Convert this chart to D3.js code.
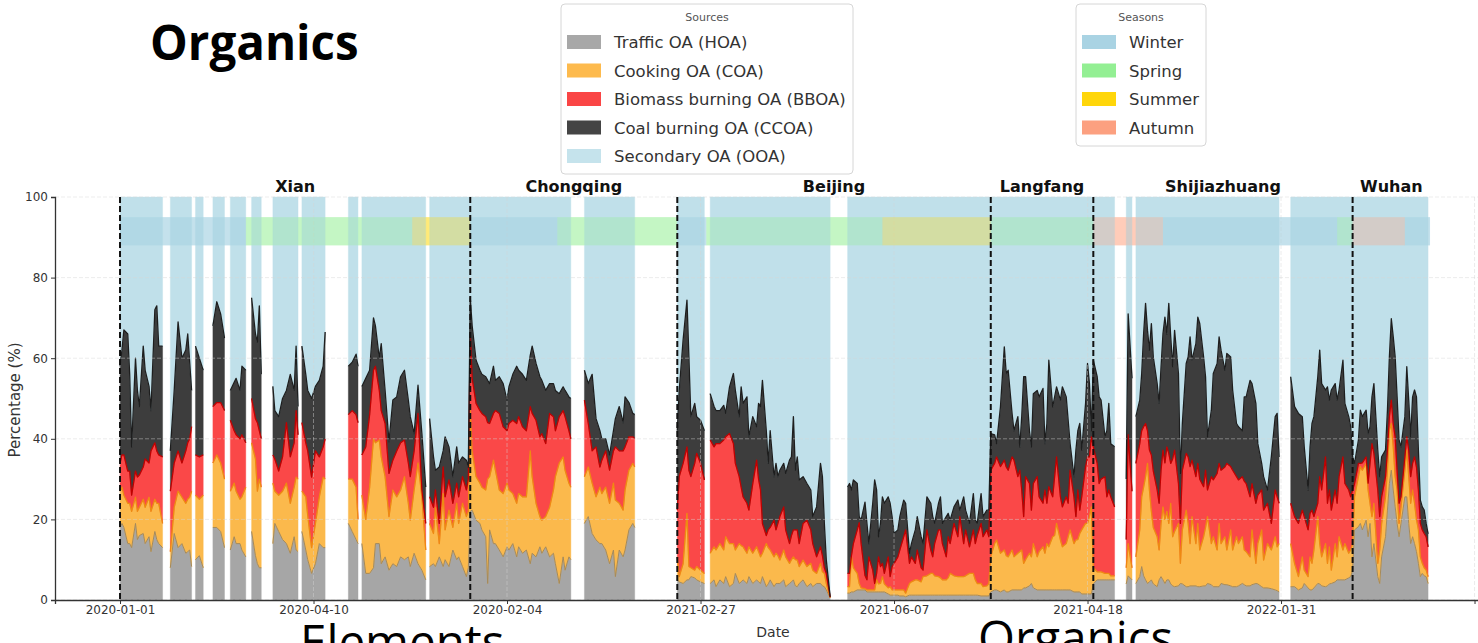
<!DOCTYPE html>
<html><head><meta charset="utf-8">
<script src="https://cdn.jsdelivr.net/npm/d3@7"></script>
<style>html,body{margin:0;padding:0;background:#fff;overflow:hidden}</style>
</head><body>
<svg id="chart" width="1478" height="643"></svg>
<script>
// ---------- DATA (sample index per contiguous run; one inner array per run) ----------
const days = [
 [0,1,2,4,5,6,8,9,10,12,13,15,16,18,19,20,22],
 [26,28,30,32,34,35,36,37],
 [39,41,43],
 [48,50,52,54],
 [57,59,60,62,63,65],
 [68,70,71,72,73],
 [79,80,82,84,86,88,90,91,92],
 [94,96,97,99,101,103,105,106],
 [118,120,122,123],
 [125,127,129,131,132,134,135,137,139,141,143,145,147,149,150,152,154,156,158],
 [160,162,163,165,167,168,170,172,174,175,177,179,180,181,182,184,186,187,189,190,191,193,194,196,198,200,201,203,205,206,208,210,212,213,215,217,218,220,222,224,225,227,229,230,232,233],
 [240,242,244,246,248,249,251,253,255,256,258,260,261,263,265,266],
 [288,289,291,293,294,295,297,298,300,302],
 [305,307,308,310,312,313,315,317,318,320,321,322,324,325,327,329,330,331,332,334,335,336,338,339,340,341,343,344,346,347,348,349,350,351,353,355,357,358,360,362,363,364,365,367],
 [376,377,378,379,381,382,383,385,386,387,389,390,391,392,393,394,395,397,398,399,400,402,403,405,406,
  408,409,411,412,414,415,417,419,420,421,423,424,425,427,428,429,431,433,434,436,437,439,441,442,443,445,446,448,449,
  450,452,453,455,457,458,459,461,462,464,465,466,467,468,470,471,472,474,475,477,478,479,480,482,483,484,486,487,489,490,491,493,494,495,496,497,499,500,501,502,
  503,505,506,507,509,510,511,512,514],
 [520,521,523],
 [525,527,528,529,530,531,532,533,534,536,537,538,539,540,541,542,543,544,545,547,548,549,551,552,553,554,556,557,558,560,561,562,564,565,567,568,569,571,572,574,575,577,578,580,581,582,584,585,587,588,590,591,593,595,597,598,599],
 [605,607,609,611,612,614,615,616,617,619,620,621,623,624,625,626,628,629,630,632,633,635,636,637,638,640,641,642,644,645,646,647,648,650,651,652,654,655,656,657,658,659,660,661,662,664,665,666,667,668,669,670,671,672,673,674,675,676]
];
const hoa = [
 [18,19,18,14,14,13,19,15,16,16.5,14,15.7,12,17,15,14,13],
 [8,16.5,13,14,11.6,12,12.4,8.3],
 [10,11,8],
 [18,18,17,13],
 [12.4,15.7,14,14,12.4,10.7],
 [17,11,9,8,8],
 [14,19,17,15,14,11.6,15.7,12.4,12],
 [17,12.4,10,6.6,9,14,13,13],
 [19,17,15,14],
 [14,6.6,6.6,8,14,14,9,10.7,7.4,9,8.3,10.7,10,10.7,8.3,11.6,9,7.4,5],
 [8.3,9,8.3,10.7,8.3,10,8.3,12.4,10,10.7,8.3,5.8,8,22,22.3,19.8,19,17.4,15.7,4.1,17.4,14,14,12.4,10.7,13.2,12.4,14,10.7,13.2,11.6,12.4,9,11.6,10.7,13.2,11.6,13.2,10.7,11.6,9,4.1,10.7,7.4,10.7,10],
 [19,20.7,16.5,14.9,14,14,12.4,9,12.4,5.8,12.4,10.7,12.4,17.4,19,18],
 [5,4.5,4.1,5,5,5.8,5.5,5,4.5,4.1],
 [4.1,5,3.3,5,4.1,5.8,3.3,4.1,6.6,4.1,4.5,5,4.1,5.8,4.1,5,4.5,4.1,5.8,3.3,4,5,3.3,4.1,4.1,4.1,5,3.3,4.1,4.5,5,3.5,3.3,4.1,5,3.3,4.1,3.3,4.1,4.1,3.5,3.3,2.5,0.5],
 [1.7,1.7,2,2,2.5,2.5,2.5,2.5,2,2,2,2,2,2,2,2,2,1.5,1.2,1.2,1.2,1.2,1,1,0.8,
  1.2,1.2,1.2,1.2,1.2,1.2,1.2,1.2,1.2,1.2,1.2,1.2,1.2,1.2,1.2,1.2,1.2,1.2,1.2,1.2,1.2,1.2,1.2,1.2,1.2,1,1,1,1,
  2,2.5,2.5,2,2.5,2,2,2.5,2.5,2.5,2.5,2.5,3,3,3.5,4.1,3,2.5,2.5,2.5,2.5,2.5,2.5,2.5,2.5,2.5,2.5,2.5,2.5,2.5,2.5,2,2,2,2,1.5,1.5,1.5,1.5,1.5,
  4,5,5,5,5,5,5,5,5],
 [4,6,5],
 [4.1,5.8,8.3,6,5,4.1,4.5,5,4,3.3,5,5.8,5,4.1,5,5,4,3.5,3.3,3.5,4.1,4,3.3,3.3,3.5,3.5,3.5,3.3,3.3,3.5,3.5,4.1,3.8,3.3,3.3,3.3,4.1,3.8,3.8,3.5,3.3,3.3,3.5,4.1,3.8,3.5,3.5,3.8,4.1,4,3.3,3,3,2.8,2.5,2.3,2],
 [3.3,3.3,2.5,3,4.1,3,2.5,2.5,3,4.1,4,3.5,3.3,3.5,4,4.1,4.5,5,5,5,5,5.5,5.8,7.4,17.4,18.2,19,17.4,19.8,15.7,19,10.7,14,5.8,4.1,10.7,15.7,22.3,28.9,32.2,27.3,23.1,19,15.7,19,25.6,25.6,19,14,15.7,14,12,9.1,5.8,6.6,6,5.8,4.1]
];
const coa = [
 [9,9,8,10,10,9,6.5,7,7,8.5,9,9.8,10,8,9,10,6],
 [4,6.5,14,11.5,12.4,13,13.1,18.7],
 [16,14,18],
 [16,18,17,17],
 [14.6,13.3,13,11,13.2,17.3],
 [22,24,18,22,20],
 [15,8,9,12,15,12.4,12.3,18.1,18],
 [10,13.2,11,6.4,10,11.6,17.5,17],
 [11,13,13,6],
 [12,13.4,21.4,32,25,25.7,26.5,19.9,13.3,18.3,17.3,16.6,20.6,13.3,11.5,15.7,25,18.2,7.4],
 [10.7,7.5,14.7,3.3,18.1,7.4,14,5.6,14,8.3,15.7,14.9,14,25,14.7,10.8,10,10.6,11.6,25.9,13.2,20.7,18.2,14.9,15.7,15.8,14.9,12.4,13.3,13.2,14,13.2,28,19,13.3,7.5,8.2,7.5,12.3,15.7,21.6,29.9,24.8,24.8,18.3,18],
 [11.6,12.3,12.5,10.7,14,12.4,15.6,15,16.6,19,11.6,11.6,14.9,14.8,14.9,15],
 [5.7,1.3,4.9,16.5,3.3,2.2,1.9,3.3,2.9,2.5],
 [7.5,8.2,9.1,9,8.3,9.9,10.7,9.9,5.8,9.9,9,8.2,7.5,7.4,7.5,8.2,7.5,6.6,5.8,10.7,9,7.4,7.4,7.5,6.9,5.8,7.4,7.4,5,5.5,5.7,6.5,6.6,4.2,4.9,5,5,4.1,2.5,5,3.5,3.3,1.6,0.1],
 [1.6,1.6,8.7,6,4.1,1.6,0.5,0.3,0.5,0.5,0.5,0.5,3,2,2.1,3.8,2,1.5,2.1,1.3,1.3,1.3,1.5,1.5,0.9,
  2.9,3.3,3.8,3.8,3.3,4.6,4.8,5.4,5.4,4.8,4.6,4.3,3.8,3.8,4.3,5.4,4.8,4.6,4.6,4.6,4.8,5.4,5.4,3.8,2.9,3.1,2.3,2.5,3.1,
  8.7,11.5,12.4,9.6,9.9,9,8.7,9.9,8.2,9.1,9.5,9.9,6.1,7,8.1,6.6,11,8.2,9.5,10.7,9.1,11.5,10.7,13.2,13.5,16.5,12.4,10.7,11.5,13.2,14.9,12,12.9,13,14.5,15.9,17.5,17.5,19.2,21.6,
  4,2,2,2,1.6,1.6,1.6,1,1],
 [4,8,3],
 [6.6,11.6,17.3,22,25.6,29.8,22.8,17,14,12.4,7.4,13.2,18.1,15.9,17,14,20,12.2,13.7,15.5,5,13.4,19,15.7,10.5,17.2,10.5,15.7,9.1,12.2,14.5,16.6,10.2,12.4,9.1,15.7,9.9,11.9,8.6,13.9,9.1,12.4,10.5,11.6,8.6,8.5,7.2,13.6,5,10,14.1,6.9,11,9.6,13.2,10.9,12],
 [10.7,5.8,3.3,7.7,3.3,2.8,8.2,6.6,9.4,16.6,10,7.2,10.7,5.6,9.2,3.3,9.5,5.7,10.7,7.4,9,6.1,6.6,6.6,8.2,12.4,14.1,14.8,14.1,11.6,5,10,10,3.3,8.3,8.3,9.9,9.9,13.2,11.6,10.7,7.5,8.3,3.3,4.1,6.6,11.6,11.6,10,11.6,10,8,8.3,4.9,2.5,2,1.6,1.7]
];
const bboa = [
 [7,8,10,8,8,4,6.5,8.5,8,8,12,8.5,15,14,13,12,16.5],
 [15,11,10,8.5,13,14,14.5,16],
 [10,10.5,10],
 [14,13,15,17],
 [17.6,13,14,15,15.4,11],
 [11,10,17,12,12],
 [7,8,6,8.5,15,11.5,11,16.5,11],
 [17,13.4,16,17.5,18,9.9,7.5,10],
 [16,17,18,24],
 [10,18,18,17,19,12.3,11.5,13.2,10.7,7.4,11.4,11.7,9.1,10,10.8,9.7,12.3,1.7,6.6],
 [6.6,6.5,4.3,5,6.6,8.2,7.5,6,5,6.6,6.6,6.6,8,19,18,18.2,18,18.3,18.2,14,13.2,11.6,14.8,19,16.6,13,16.5,18.2,19.8,19.1,17.4,16.4,11,15.7,20.6,19.8,21.5,18.1,23.3,18.2,11.4,11.5,11.5,13.3,13,12],
 [19,10.8,8,12.4,5,8.3,9,8.2,8,13.2,13,14.7,10.7,8.3,6.6,7],
 [11.6,24.8,24.9,16.5,23.9,22.6,26.5,28.1,26.5,23.2],
 [28.1,24.8,26.4,24.8,27.3,24.8,27.3,24.8,21.5,16.6,14.5,12.4,12.4,9.1,17.3,21.5,18,16.6,7.4,2,4.4,5.6,9.1,5.8,8,10.8,10.7,6.7,4.9,6,6.7,7.4,7.5,5.7,9.1,11.5,8.3,6.6,4.1,4.1,4,1.4,2.5,0.1],
 [3.3,3.3,0.3,6,10.8,15.1,11,3.3,2.5,8.2,4.9,1.6,1.6,6.7,4.2,3.3,2.6,7.7,2.5,5.8,6.5,8.2,9.9,13.2,15.7,
  5,6.2,4.1,7.4,3.5,1.6,11.4,5.8,4.1,8,11.6,11.9,9,5.7,10.2,7.4,13,9.9,14.9,8.2,11.4,6.6,10.8,9,11.9,14.9,12.4,13.9,11.6,
  21.5,19.9,20.6,21.5,22.3,22,21.5,23.1,24,19,20.2,14.9,11.6,20.6,17.3,11.6,14.9,19.9,13.6,10.8,15.7,10,14.9,9.9,14.6,16.5,10.7,9.9,11.6,8.3,14.8,11.6,5.8,12.3,5.8,8.2,14.1,16.5,14.8,17.4,
  30,26.9,21.9,23,24,19,20.7,19.6,17.1],
 [7,27,19],
 [23.2,21.4,16.4,15,13.2,8.1,9.9,14,14,11.6,11.6,13.2,14.1,14,16,17.4,9.9,19.3,20.2,9.9,9.9,14.8,14.1,16.5,19.1,14,16.6,14.9,17.6,12.4,14.2,6.6,16.6,14.1,19,14.9,18.2,17.3,21.5,15.7,19.8,14.9,15.8,14.9,17.1,16.9,14.9,11.5,14.9,12,9.9,12.4,10,6.6,11.6,12.4,10],
 [10,11.6,13.2,11.6,13.3,11.6,10.8,13.2,8.3,3.3,16.6,16.6,21.5,14.9,14.1,14.9,13.3,13.3,14.9,23.1,14.9,15.7,13.2,13.3,3.3,3.3,0.8,1.8,1.6,1.7,9.9,18.1,12.4,18.2,8.3,6.6,5,5,3.4,5.8,5.8,9.9,4.9,5,2.5,3.3,3.3,6.6,6.6,6.6,11.5,13,9.9,8.3,8.3,8.5,8.3,7.4]
];
const ccoa = [
 [24,26,31,34,24,12,28,21.5,17,30,22,19,10,33,36,27,27.5],
 [10,18,32,26,25,27,19,9],
 [27,24.5,21],
 [20,25,22,18],
 [7.4,12,14,12,17,18],
 [25,21,20,31,16],
 [17,12,13.5,14.5,8,20.5,13,16,7],
 [19,17,15,19.5,16,19,20,26.5],
 [12,12,15,14],
 [17,17,11,13,10,8,16.6,8.2,7.9,14.9,13.4,16.4,17.3,15.6,14.9,4.3,7,14,9],
 [19.4,12.5,4.9,14,4,14.9,8.2,6.6,9,8.4,4.9,7.4,3,9,13,10.7,10,9.7,9.9,10.5,9.9,11.7,7.5,9.1,10.7,7.6,9.1,11.4,14.2,11.5,13,12.5,12.7,16.7,14.1,14.9,13.2,13.2,7.4,8.2,10,5.7,5.9,6.5,8.4,10],
 [7.4,9.9,19,7,9,5.3,3,3.8,5,7,11,7,12.4,8.5,5.8,6],
 [19.7,21.4,30.6,36.4,28.1,14.9,14.9,9.1,10.7,12.2],
 [11.5,10,8.2,8.2,8.6,5.8,11.6,17.4,18.1,14.9,24.9,23.2,26.4,18.2,16.6,8.3,18.8,20.7,35.5,26,16.5,24,10.8,16.5,11.6,11.5,10.8,14,20.7,19.5,28.1,14.8,18.1,15.8,11.6,9.1,9.9,6.7,12.4,20.7,19.6,11,3.4,0.1],
 [21.4,22.3,16.3,15.8,11.5,1.5,5.8,18.2,14,3.3,16.6,25.7,20.7,5,10.7,16.5,17.4,14.9,18.2,12.4,7.5,6.7,8.3,9.1,6.6,
  2.5,3.3,8.3,8.3,7.7,6.6,8.2,11.6,10,5,6.6,8.2,5,10,5.8,5.8,4.1,9.1,1.6,11.6,4.9,5.8,9,5.8,3,7.4,5,4.9,6.6,
  9.1,7.1,3.3,14.8,28.1,23.2,24.8,10.8,7.3,14.9,5.8,18.2,34.7,24.8,13.1,15.7,22.3,21.4,24.8,28.5,11.5,19.8,31.4,22.3,19.8,17.4,24,29.8,24.8,20.6,6.6,5,16.5,14.7,21.5,11.6,15.7,23.2,18.2,1.5,
  21.5,21.5,21.5,19.6,9.9,16.4,21.5,13.2,14.9],
 [15,30,28],
 [11.6,10.8,14.2,23.1,29.8,24.9,24.8,32.6,28.3,26.4,24.8,25.7,28.9,36.2,28,37.2,31.4,22.9,29.7,27.3,12.4,11.6,22.3,24.8,32.2,24.8,33,36.3,38.6,32.2,23.2,13.2,16.5,26.4,27.3,31.4,29.8,24,27.3,27.2,19.9,13.2,13.2,11.4,20.9,21.5,28.9,24.8,24.8,12.8,6.6,8.3,3.3,16.5,18.2,20.7,11.5],
 [31.4,27.3,27.3,23.2,17.3,9.9,16.5,21.5,24.8,31.4,31.4,26.4,16.6,28.9,22.3,29.8,26.4,25.6,21.5,24,19.9,18.2,17.4,8.2,5,5.8,13.2,11.5,11.6,12.3,9.1,11.6,17.3,9.9,9.9,9.9,6.6,9.9,14.8,20.2,21.5,19.8,18.2,15.7,12.4,10,17.4,12.4,9.9,16.5,16.6,17.4,9.9,5.8,5.7,5.8,3.3,3.2]
];

const sourceLabels = ['Traffic OA (HOA)','Cooking OA (COA)','Biomass burning OA (BBOA)','Coal burning OA (CCOA)','Secondary OA (OOA)'];
const cityNames = ['Xian','Chongqing','Beijing','Langfang','Shijiazhuang','Wuhan'];
const cityStart = [0,181,288,450,503,637];
const cityEnd   = [181,288,450,503,637,677];
const seasonNames = ['Winter','Spring','Summer','Autumn'];
const seasonName  = ['Winter','Spring','Summer','Winter','Spring','Winter','Spring','Summer','Spring','Autumn','Winter','Spring','Autumn','Winter'];
const seasonStart = [0,65,151,181,226,288,303,394,450,503,539,629,637,664];
const seasonEnd   = [65,151,181,226,288,303,394,450,503,539,629,637,664,677];
const xTickValues = [0,100,200,300,400,500,600,700];
const xTickLabels = ['2020-01-01','2020-04-10','2020-02-04','2021-02-27','2021-06-07','2021-04-18','2022-01-31',''];
const yTickValues = [0,20,40,60,80,100];

// ---------- STYLE ----------
const keys = ['hoa','coa','bboa','ccoa','ooa'];
const fills = {hoa:'#a6a6a6', coa:'#fbb94c', bboa:'#fa4848', ccoa:'#3d3d3d', ooa:'#c0e0ea'};
const edges = {hoa:'#a48a5c', coa:'#ee8a12', bboa:'#c20000', ccoa:'#1e1e1e'};
const seasonColor = {Winter:'#8fc6dc', Spring:'#90ee90', Summer:'#ffd700', Autumn:'#ffa07a'};
const legendSeasonColor = {Winter:'#a9d3e3', Spring:'#93ef93', Summer:'#ffd60a', Autumn:'#fca080'};
const FONT = 'DejaVu Sans, Verdana, sans-serif';

const svg = d3.select('#chart');
const x = d3.scaleLinear().domain([-33.6, 730]).range([55, 55 + 763.6 * 1.935]);
const y = d3.scaleLinear().domain([0, 100]).range([600, 197]);

function drawBand(g, opacity) {
  seasonName.forEach((nm, i) => {
    g.append('rect')
      .attr('x', x(seasonStart[i])).attr('width', x(seasonEnd[i]) - x(seasonStart[i]))
      .attr('y', y(95)).attr('height', y(88) - y(95))
      .attr('fill', seasonColor[nm]).attr('fill-opacity', opacity);
  });
}
// season band seen through the data gaps (under the stack)
drawBand(svg.append('g'), 0.32);

// ---------- stacked areas ----------
const gData = svg.append('g');
days.forEach((seg, s) => {
  const n = Math.min(seg.length, hoa[s].length, coa[s].length, bboa[s].length, ccoa[s].length);
  if (n !== seg.length) console.warn('length mismatch in run', s);
  const rows = d3.range(n).map(i => {
    const r = {day: seg[i], hoa: hoa[s][i], coa: coa[s][i], bboa: bboa[s][i], ccoa: ccoa[s][i]};
    r.ooa = Math.max(0, 100 - (r.hoa + r.coa + r.bboa + r.ccoa));
    return r;
  });
  const stacked = d3.stack().keys(keys)(rows);
  const area = d3.area().x(d => x(d.data.day)).y0(d => y(d[0])).y1(d => y(d[1]));
  stacked.forEach(layer => {
    gData.append('path').datum(layer).attr('d', area)
      .attr('fill', fills[layer.key]).attr('stroke', fills[layer.key]).attr('stroke-width', 0.4);
  });
  const line = d3.line().x(d => x(d.data.day)).y(d => y(d[1]));
  stacked.slice(0, 4).forEach(layer => {
    gData.append('path').datum(layer).attr('d', line)
      .attr('fill', 'none').attr('stroke', edges[layer.key])
      .attr('stroke-width', layer.key === 'hoa' ? 1 : 1.3).attr('stroke-linejoin', 'round');
  });
});

// ---------- grid ----------
const gGrid = svg.append('g').attr('stroke', '#d4d4d4').attr('stroke-opacity', 0.45)
  .attr('stroke-width', 1).attr('stroke-dasharray', '4,2');
yTickValues.forEach(v => gGrid.append('line').attr('x1', 55).attr('x2', 1478).attr('y1', y(v)).attr('y2', y(v)));
xTickValues.forEach(v => gGrid.append('line').attr('x1', x(v)).attr('x2', x(v)).attr('y1', y(100)).attr('y2', y(0)));

// ---------- season band (over the stack) ----------
drawBand(svg.append('g'), 0.3);

// ---------- city separators & labels ----------
cityStart.forEach((d, i) => {
  svg.append('line').attr('x1', x(d)).attr('x2', x(d)).attr('y1', y(100)).attr('y2', y(0))
    .attr('stroke', '#111').attr('stroke-width', 2).attr('stroke-dasharray', '6,3');
  svg.append('text').attr('x', x((cityStart[i] + cityEnd[i]) / 2)).attr('y', 192)
    .attr('text-anchor', 'middle').attr('font-family', FONT).attr('font-weight', 'bold')
    .attr('font-size', 16).attr('fill', '#111').text(cityNames[i]);
});

// ---------- axes ----------
const xAxis = d3.axisBottom(x).tickValues(xTickValues).tickFormat((d, i) => xTickLabels[i]).tickSize(4).tickPadding(1);
const gx = svg.append('g').attr('transform', 'translate(0,600)').call(xAxis);
const yAxis = d3.axisLeft(y).tickValues(yTickValues).tickSize(4).tickPadding(3);
const gy = svg.append('g').attr('transform', 'translate(55,0)').call(yAxis);
[gx, gy].forEach(g => {
  g.select('.domain').attr('stroke', '#333').attr('stroke-width', 1.3);
  g.selectAll('.tick line').attr('stroke', '#333');
  g.selectAll('.tick text').attr('font-family', FONT).attr('font-size', 12).attr('fill', '#333');
});

svg.append('text').attr('transform', 'translate(20,400) rotate(-90)').attr('text-anchor', 'middle')
  .attr('font-family', FONT).attr('font-size', 15).attr('fill', '#333').text('Percentage (%)');
svg.append('text').attr('x', 773).attr('y', 637).attr('text-anchor', 'middle')
  .attr('font-family', FONT).attr('font-size', 14).attr('fill', '#333').text('Date');

// ---------- legends ----------
function legend(x0, y0, w, h, title, labels, colors, textX) {
  const g = svg.append('g');
  g.append('rect').attr('x', x0).attr('y', y0).attr('width', w).attr('height', h).attr('rx', 4)
    .attr('fill', '#fff').attr('stroke', '#d6d6d6').attr('stroke-width', 1);
  g.append('text').attr('x', x0 + w / 2).attr('y', y0 + 17).attr('text-anchor', 'middle')
    .attr('font-family', FONT).attr('font-size', 11).attr('fill', '#555').text(title);
  labels.forEach((lab, i) => {
    const cy = 42 + i * 28.5;
    g.append('rect').attr('x', x0 + 6).attr('y', cy - 7).attr('width', 34).attr('height', 14).attr('fill', colors[i]);
    g.append('text').attr('x', textX).attr('y', cy + 6).attr('font-family', FONT)
      .attr('font-size', 16.5).attr('fill', '#333').text(lab);
  });
}
legend(561, 4, 292, 170, 'Sources', sourceLabels,
  ['#a8a8a8', '#fdba4d', '#fa4545', '#444444', '#c5e3ec'], 614);
legend(1076, 4, 130, 142, 'Seasons', seasonNames, seasonNames.map(s => legendSeasonColor[s]), 1129);

// ---------- titles ----------
svg.append('text').attr('x', 150).attr('y', 60).attr('font-family', 'Open Sans, sans-serif')
  .attr('font-weight', 'bold').attr('font-size', 47.5).attr('fill', '#000').text('Organics');
svg.append('text').attr('x', 300).attr('y', 659).attr('font-family', 'Open Sans, sans-serif')
  .attr('font-size', 47.5).attr('fill', '#000').text('Elements');
svg.append('text').attr('x', 978).attr('y', 655).attr('font-family', 'Open Sans, sans-serif')
  .attr('font-size', 47.5).attr('fill', '#000').text('Organics');
</script></body></html>
